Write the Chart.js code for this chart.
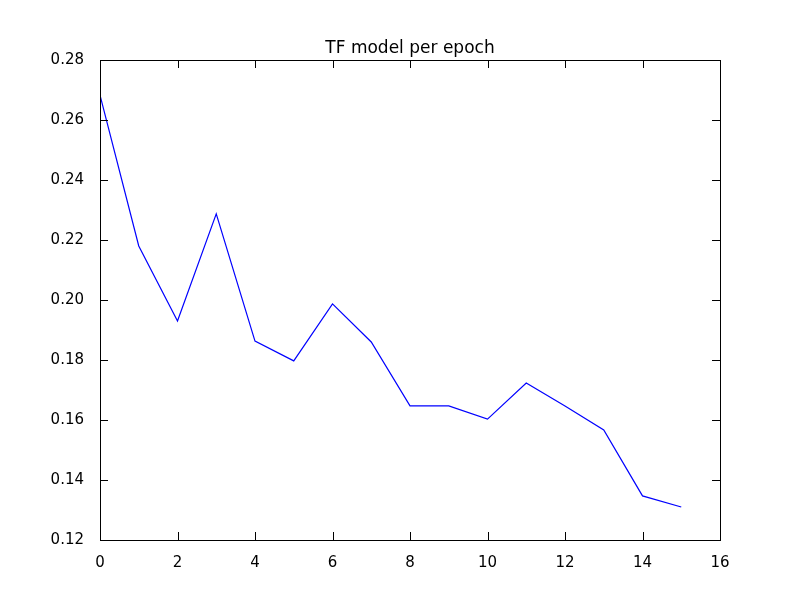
<!DOCTYPE html>
<html>
<head>
<script src="https://cdn.jsdelivr.net/npm/chart.js@4"></script>
<style>body{margin:0;background:#fff}</style>
</head>
<body>
<canvas id="c" width="800" height="600"></canvas>
<script>
const epochs = [0, 1, 2, 3, 4, 5, 6, 7, 8, 9, 10, 11, 12, 13, 14, 15];
const values = [0.2683, 0.2180, 0.1930, 0.2287, 0.1863, 0.1797, 0.1987, 0.1860,
                0.1647, 0.1647, 0.1603, 0.1723, 0.1647, 0.1567, 0.1347, 0.1310];
const chartTitle = 'TF model per epoch';

// matplotlib-style frame, inward ticks on all sides, and title
const frameTicks = {
  id: 'frameTicks',
  afterDraw(chart) {
    const { ctx, chartArea: a, scales } = chart;
    ctx.save();
    ctx.strokeStyle = '#000';
    ctx.lineWidth = 1;
    ctx.strokeRect(a.left + 0.5, a.top + 0.5, a.right - a.left, a.bottom - a.top);
    ctx.beginPath();
    scales.x.ticks.forEach(t => {
      const px = Math.round(scales.x.getPixelForValue(t.value)) + 0.5;
      ctx.moveTo(px, a.bottom); ctx.lineTo(px, a.bottom - 8);
      ctx.moveTo(px, a.top); ctx.lineTo(px, a.top + 8);
    });
    scales.y.ticks.forEach(t => {
      const py = Math.round(scales.y.getPixelForValue(t.value)) + 0.5;
      ctx.moveTo(a.left, py); ctx.lineTo(a.left + 8, py);
      ctx.moveTo(a.right, py); ctx.lineTo(a.right - 8, py);
    });
    ctx.stroke();
    ctx.fillStyle = '#000';
    ctx.font = '17px "DejaVu Sans"';
    ctx.textAlign = 'center';
    ctx.textBaseline = 'alphabetic';
    ctx.fillText(chartTitle, (a.left + a.right) / 2, a.top - 7);
    ctx.restore();
  }
};

new Chart(document.getElementById('c'), {
  type: 'line',
  data: {
    datasets: [{
      data: epochs.map((e, i) => ({ x: e, y: values[i] })),
      borderColor: '#0000ff',
      borderWidth: 1.2,
      pointRadius: 0,
      tension: 0,
      fill: false
    }]
  },
  plugins: [frameTicks],
  options: {
    responsive: false,
    animation: false,
    layout: { padding: { left: 0, right: 80, top: 60, bottom: 0 } },
    plugins: { legend: { display: false }, tooltip: { enabled: false } },
    scales: {
      x: {
        type: 'linear', min: 0, max: 16,
        ticks: { stepSize: 2, color: '#000', font: { family: 'DejaVu Sans', size: 15 }, padding: 6 },
        grid: { display: false },
        border: { display: false },
        afterFit(s) { s.height = 60; }
      },
      y: {
        min: 0.12, max: 0.28,
        ticks: { stepSize: 0.02, color: '#000', font: { family: 'DejaVu Sans', size: 15 }, padding: 8,
                 callback: v => v.toFixed(2) },
        grid: { display: false },
        border: { display: false },
        afterFit(s) { s.width = 100; }
      }
    }
  }
});
</script>
</body>
</html>
